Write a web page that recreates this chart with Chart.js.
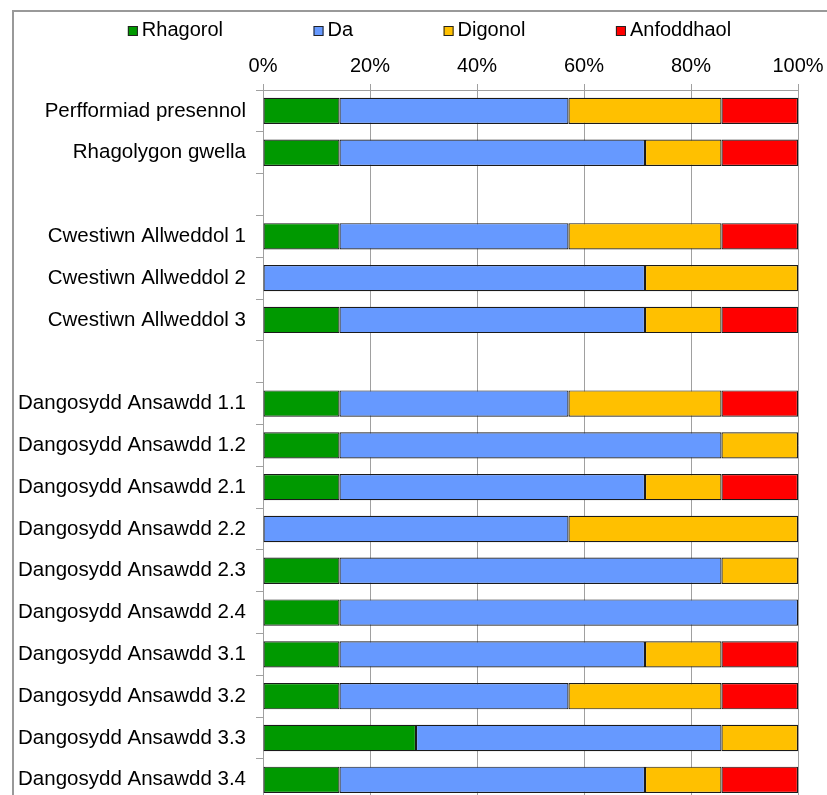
<!DOCTYPE html>
<html>
<head>
<meta charset="utf-8">
<script src="https://cdn.jsdelivr.net/npm/chart.js@4.4.1/dist/chart.umd.min.js"></script>
<style>
  html, body { margin: 0; padding: 0; background: #fff; overflow: hidden; }
  .wrap { width: 827px; height: 795px; overflow: hidden; }
</style>
</head>
<body>
<div class="wrap"><canvas id="chart" width="827" height="823"></canvas></div>
<script>
// Data (% of each row)
const categories = [
    'Perfformiad presennol', 'Rhagolygon gwella', '',
    'Cwestiwn Allweddol 1', 'Cwestiwn Allweddol 2', 'Cwestiwn Allweddol 3', '',
    'Dangosydd Ansawdd 1.1', 'Dangosydd Ansawdd 1.2', 'Dangosydd Ansawdd 2.1',
    'Dangosydd Ansawdd 2.2', 'Dangosydd Ansawdd 2.3', 'Dangosydd Ansawdd 2.4',
    'Dangosydd Ansawdd 3.1', 'Dangosydd Ansawdd 3.2', 'Dangosydd Ansawdd 3.3',
    'Dangosydd Ansawdd 3.4'
];
const seriesNames = ['Rhagorol', 'Da', 'Digonol', 'Anfoddhaol'];
const seriesColors = ['#009900', '#6699FF', '#FFC000', '#FF0000'];

const rhagorol   = [14.3, 14.3, null, 14.3, null, 14.3, null, 14.3, 14.3, 14.3, null, 14.3, 14.3, 14.3, 14.3, 28.6, 14.3];
const da         = [42.8, 57.1, null, 42.8, 71.4, 57.1, null, 42.8, 71.4, 57.1, 57.1, 71.4, 85.7, 57.1, 42.8, 57.1, 57.1];
const digonol    = [28.6, 14.3, null, 28.6, 28.6, 14.3, null, 28.6, 14.3, 14.3, 42.9, 14.3, null, 14.3, 28.6, 14.3, 14.3];
const anfoddhaol = [14.3, 14.3, null, 14.3, null, 14.3, null, 14.3, null, 14.3, null, null, null, 14.3, 14.3, null, 14.3];

const tickValues = [0, 20, 40, 60, 80, 100];

const FONT = '"Liberation Sans", Arial, sans-serif';
const GRID = '#a0a0a0';

// Outer frame
const framePlugin = {
    id: 'frame',
    beforeDraw(chart) {
        const c = chart.ctx;
        c.save();
        c.strokeStyle = '#999';
        c.lineWidth = 2;
        c.strokeRect(13, 11, 900, 900);
        c.restore();
    }
};

// Legend row at the top (wide gaps like the original)
const legendPlugin = {
    id: 'topLegend',
    afterDraw(chart) {
        const c = chart.ctx;
        c.save();
        c.font = '20px ' + FONT;
        c.textBaseline = 'middle';
        const items = chart.data.datasets.map(ds => ({
            text: ds.label,
            color: ds.backgroundColor,
            w: c.measureText(ds.label).width
        }));
        const gap = 89.5;
        const total = items.reduce((s, it) => s + 15 + it.w, 0) + gap * (items.length - 1);
        let x = 430 - total / 2;
        items.forEach(it => {
            c.fillStyle = it.color;
            c.fillRect(x, 26, 10, 10);
            c.strokeStyle = '#222';
            c.lineWidth = 1;
            c.strokeRect(x + 0.5, 26.5, 9, 9);
            c.fillStyle = '#000';
            c.fillText(it.text, x + 14, 30);
            x += 15 + it.w + gap;
        });
        c.restore();
    }
};

const series = [rhagorol, da, digonol, anfoddhaol];

const ctx = document.getElementById('chart').getContext('2d');
const chart = new Chart(ctx, {
    type: 'bar',
    data: {
        labels: categories,
        datasets: series.map((values, i) => ({
            label: seriesNames[i],
            data: values,
            backgroundColor: seriesColors[i],
            borderColor: '#1a1a1a',
            borderWidth: 1.2,
            borderSkipped: false,
            barPercentage: 0.63,
            categoryPercentage: 1
        }))
    },
    options: {
        indexAxis: 'y',
        responsive: false,
        animation: false,
        layout: { padding: { top: 50, right: 29, bottom: 0, left: 0 } },
        plugins: {
            legend: { display: false },
            tooltip: { enabled: false }
        },
        scales: {
            x: {
                position: 'top',
                stacked: true,
                min: 0,
                max: 100,
                afterBuildTicks: axis => { axis.ticks = tickValues.map(v => ({ value: v })); },
                afterFit: scale => {
                    scale.height = 40;
                    scale.paddingRight = 0;
                },
                grid: { color: GRID, tickLength: 6 },
                border: { color: GRID },
                ticks: {
                    color: '#000',
                    padding: 6,
                    font: { family: FONT, size: 20 },
                    callback: v => v + '%'
                }
            },
            y: {
                stacked: true,
                afterFit: scale => { scale.width = 263; },
                grid: { drawOnChartArea: false, tickLength: 7, color: GRID },
                border: { color: GRID },
                ticks: {
                    color: '#000',
                    padding: 10,
                    autoSkip: false,
                    font: { family: FONT, size: 20.5 }
                }
            }
        }
    },
    plugins: [framePlugin, legendPlugin]
});
</script>
</body>
</html>
